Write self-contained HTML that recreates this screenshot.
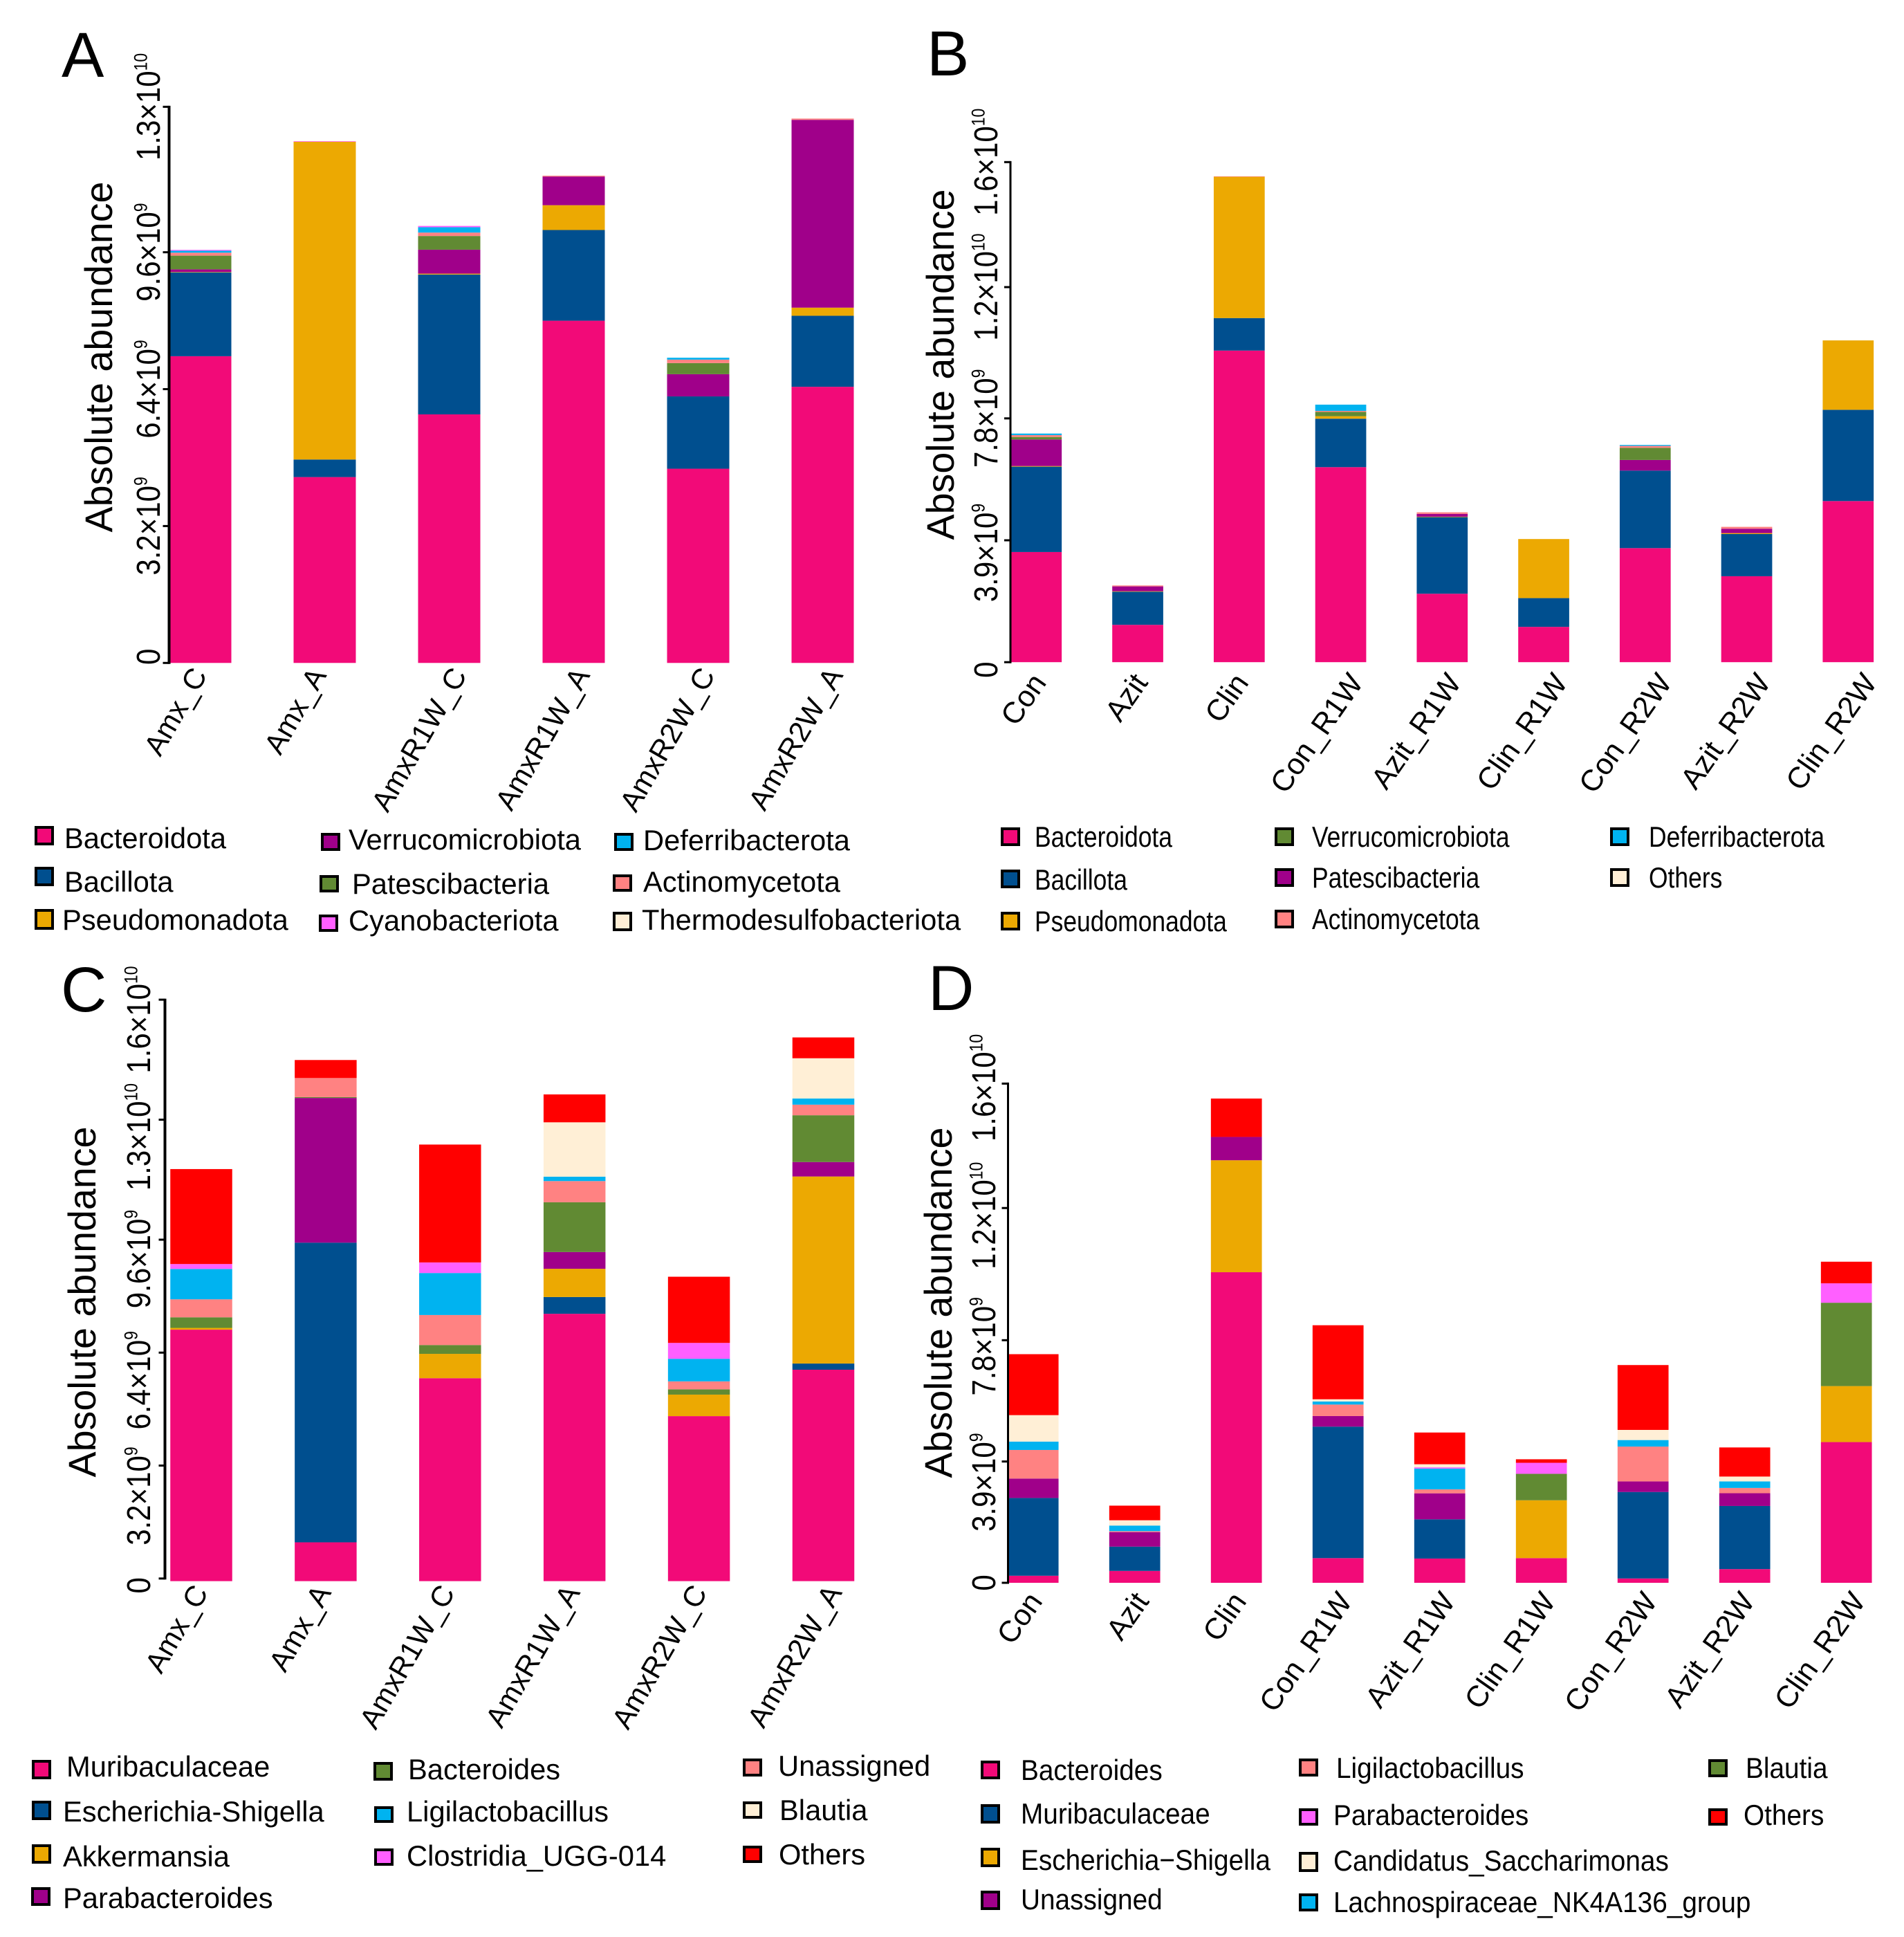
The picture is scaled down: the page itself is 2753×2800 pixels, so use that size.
<!DOCTYPE html>
<html lang="en">
<head>
<meta charset="utf-8">
<title>Absolute abundance stacked bars</title>
<style>
html,body{margin:0;padding:0;background:#fff;}
svg{display:block;}
text{font-family:"Liberation Sans",Arial,sans-serif;fill:#000;}
.lg text{font-size:41.7px;}
.lg rect{stroke:#000;stroke-width:4px;}
.pl{font-size:92px;}
.at{font-size:55.6px;}
</style>
</head>
<body>
<svg id="fig" xmlns="http://www.w3.org/2000/svg" width="2753" height="2800" viewBox="0 0 2753 2800">
<rect width="2753" height="2800" fill="#fff"/>
<text class="pl" x="89" y="111">A</text>
<text class="pl" x="1340" y="109">B</text>
<text class="pl" x="88" y="1462">C</text>
<text class="pl" x="1342" y="1460">D</text>

<text class="at" transform="translate(162,516) rotate(-90)" text-anchor="middle">Absolute abundance</text>
<text class="at" transform="translate(1379,527) rotate(-90)" text-anchor="middle">Absolute abundance</text>
<text class="at" transform="translate(138,1882) rotate(-90)" text-anchor="middle">Absolute abundance</text>
<text class="at" transform="translate(1376,1883) rotate(-90)" text-anchor="middle">Absolute abundance</text>

<g class="lg">
<g><rect x="52" y="1196" width="24" height="24" fill="#F20A78"/><text x="93" y="1226">Bacteroidota</text></g>
<g><rect x="52" y="1255" width="24" height="24" fill="#004F8F"/><text x="93" y="1289">Bacillota</text></g>
<g><rect x="52" y="1316" width="24" height="26" fill="#ECA902"/><text x="90" y="1344">Pseudomonadota</text></g>
<g><rect x="466" y="1206" width="24" height="22" fill="#A0008A"/><text x="504" y="1228">Verrucomicrobiota</text></g>
<g><rect x="464" y="1267" width="24" height="21" fill="#618A33"/><text x="509" y="1292">Patescibacteria</text></g>
<g><rect x="463" y="1324" width="24" height="21" fill="#FF5FFF"/><text x="504" y="1345">Cyanobacteriota</text></g>
<g><rect x="890" y="1206" width="24" height="22" fill="#00B3F0"/><text x="930" y="1229">Deferribacterota</text></g>
<g><rect x="888" y="1266" width="24" height="21" fill="#FF8282"/><text x="930" y="1289">Actinomycetota</text></g>
<g><rect x="888" y="1320" width="24" height="24" fill="#FFEFD6"/><text x="928" y="1344">Thermodesulfobacteriota</text></g>
</g>

<g class="lg">
<g><rect x="1449" y="1198" width="24" height="23" fill="#F20A78"/><text transform="translate(1496,1224) scale(.85,1)">Bacteroidota</text></g>
<g><rect x="1449" y="1259" width="24" height="23" fill="#004F8F"/><text transform="translate(1496,1286) scale(.85,1)">Bacillota</text></g>
<g><rect x="1449" y="1320" width="24" height="23" fill="#ECA902"/><text transform="translate(1496,1346) scale(.85,1)">Pseudomonadota</text></g>
<g><rect x="1845" y="1198" width="24" height="23" fill="#618A33"/><text transform="translate(1897,1224) scale(.85,1)">Verrucomicrobiota</text></g>
<g><rect x="1845" y="1257" width="24" height="23" fill="#A0008A"/><text transform="translate(1897,1283) scale(.85,1)">Patescibacteria</text></g>
<g><rect x="1845" y="1317" width="24" height="23" fill="#FF8282"/><text transform="translate(1897,1343) scale(.85,1)">Actinomycetota</text></g>
<g><rect x="2330" y="1198" width="24" height="23" fill="#00B3F0"/><text transform="translate(2384,1224) scale(.85,1)">Deferribacterota</text></g>
<g><rect x="2330" y="1257" width="24" height="23" fill="#FFEFD6"/><text transform="translate(2384,1283) scale(.85,1)">Others</text></g>
</g>

<g class="lg">
<g><rect x="48" y="2546" width="24" height="24" fill="#F20A78"/><text x="96" y="2568">Muribaculaceae</text></g>
<g><rect x="48" y="2605" width="24" height="24" fill="#004F8F"/><text x="91" y="2633">Escherichia-Shigella</text></g>
<g><rect x="48" y="2668" width="24" height="24" fill="#ECA902"/><text x="91" y="2698">Akkermansia</text></g>
<g><rect x="47" y="2730" width="24" height="23" fill="#A0008A"/><text x="91" y="2758">Parabacteroides</text></g>
<g><rect x="542" y="2549" width="24" height="23" fill="#618A33"/><text x="590" y="2572">Bacteroides</text></g>
<g><rect x="543" y="2613" width="24" height="20" fill="#00B3F0"/><text x="588" y="2633">Ligilactobacillus</text></g>
<g><rect x="543" y="2674" width="24" height="21" fill="#FF5FFF"/><text x="588" y="2697">Clostridia_UGG-014</text></g>
<g><rect x="1076" y="2544" width="24" height="22" fill="#FF8282"/><text x="1125" y="2567">Unassigned</text></g>
<g><rect x="1076" y="2606" width="24" height="21" fill="#FFEFD6"/><text x="1127" y="2631">Blautia</text></g>
<g><rect x="1076" y="2670" width="24" height="21" fill="#FF0000"/><text x="1126" y="2695">Others</text></g>
</g>

<g class="lg">
<g><rect x="1420" y="2547" width="24" height="23" fill="#F20A78"/><text transform="translate(1476,2573) scale(.93,1)">Bacteroides</text></g>
<g><rect x="1420" y="2610" width="24" height="24" fill="#004F8F"/><text transform="translate(1476,2636) scale(.93,1)">Muribaculaceae</text></g>
<g><rect x="1420" y="2673" width="24" height="24" fill="#ECA902"/><text transform="translate(1476,2703) scale(.93,1)">Escherichia−Shigella</text></g>
<g><rect x="1420" y="2735" width="24" height="24" fill="#A0008A"/><text transform="translate(1476,2760) scale(.93,1)">Unassigned</text></g>
<g><rect x="1880" y="2544" width="24" height="22" fill="#FF8282"/><text transform="translate(1932,2570) scale(.93,1)">Ligilactobacillus</text></g>
<g><rect x="1880" y="2616" width="24" height="21" fill="#FF5FFF"/><text transform="translate(1928,2638) scale(.93,1)">Parabacteroides</text></g>
<g><rect x="1880" y="2679" width="24" height="25" fill="#FFEFD6"/><text transform="translate(1928,2704) scale(.93,1)">Candidatus_Saccharimonas</text></g>
<g><rect x="1880" y="2739" width="24" height="22" fill="#00B3F0"/><text transform="translate(1928,2764) scale(.93,1)">Lachnospiraceae_NK4A136_group</text></g>
<g><rect x="2472" y="2545" width="24" height="22" fill="#618A33"/><text transform="translate(2524,2570) scale(.93,1)">Blautia</text></g>
<g><rect x="2472" y="2616" width="24" height="21" fill="#FF0000"/><text transform="translate(2521,2638) scale(.93,1)">Others</text></g>
</g>
</svg>

<script>
// Values in units of 1e9.
const amxCategories = ['Amx_C','Amx_A','AmxR1W_C','AmxR1W_A','AmxR2W_C','AmxR2W_A'];
const macCategories = ['Con','Azit','Clin','Con_R1W','Azit_R1W','Clin_R1W','Con_R2W','Azit_R2W','Clin_R2W'];

const aTickValues = [0,3.2,6.4,9.6,13];
const aTickLabels = ['0','3.2×10^9','6.4×10^9','9.6×10^9','1.3×10^10'];
const aBacteroidota = [7.17,4.345,5.81,8.0,4.54,6.455];
const aBacillota = [1.96,0.41,3.27,2.12,1.69,1.66];
const aPseudomonadota = [0.01,7.43,0.02,0.58,0,0.19];
const aVerrucomicrobiota = [0.06,0,0.56,0.67,0.52,4.39];
const aPatescibacteria = [0.32,0,0.32,0,0.26,0];
const aActinomycetota = [0.07,0,0.08,0.02,0.08,0.03];
const aDeferribacterota = [0.045,0,0.125,0,0.045,0];
const aCyanobacteriota = [0.02,0.012,0.03,0,0,0];
const aThermodesulfobacteriota = [0,0,0,0,0,0];

const bTickValues = [0,3.9,7.8,12,16];
const bTickLabels = ['0','3.9×10^9','7.8×10^9','1.2×10^10','1.6×10^10'];
const bBacteroidota = [3.525,1.195,9.97,6.24,2.19,1.13,3.65,2.75,5.155];
const bBacillota = [2.73,1.06,1.04,1.55,2.45,0.92,2.48,1.35,2.92];
const bPseudomonadota = [0.02,0.015,4.52,0.08,0.015,1.89,0,0.03,2.22];
const bPatescibacteria = [0.85,0.155,0,0,0.09,0,0.34,0.14,0];
const bVerrucomicrobiota = [0.08,0,0,0.14,0,0,0.39,0,0];
const bActinomycetota = [0.06,0.03,0.015,0.03,0.05,0,0.06,0.06,0];
const bDeferribacterota = [0.05,0,0,0.2,0,0,0.03,0,0];
const bOthers = [0,0,0,0,0,0,0,0,0];

const cTickValues = [0,3.2,6.4,9.6,13,16.4];
const cTickLabels = ['0','3.2×10^9','6.4×10^9','9.6×10^9','1.3×10^10','1.6×10^10'];
const cMuribaculaceae = [7.125,1.1,5.75,7.575,4.675,5.99];
const cEscherichia = [0,8.49,0,0.475,0,0.175];
const cAkkermansia = [0.05,0,0.69,0.8,0.61,5.3];
const cParabacteroides = [0,4.1,0,0.475,0,0.41];
const cBacteroides = [0.3,0.025,0.25,1.41,0.15,1.325];
const cUnassigned = [0.51,0.54,0.85,0.6,0.225,0.3];
const cLigilactobacillus = [0.86,0,1.19,0.125,0.64,0.175];
const cClostridia = [0.14,0,0.3,0,0.45,0];
const cBlautia = [0,0,0,1.54,0,1.14];
const cOthers = [2.69,0.51,3.34,0.79,1.875,0.59];

const dTickValues = [0,3.9,7.8,12.05,16.05];
const dTickLabels = ['0','3.9×10^9','7.8×10^9','1.2×10^10','1.6×10^10'];
const dBacteroides = [0.227,0.383,9.986,0.794,0.78,0.794,0.14,0.44,4.525];
const dMuribaculaceae = [2.5,0.78,0,4.227,1.26,0,2.78,2.03,0];
const dEscherichia = [0,0,3.6,0,0,1.86,0,0,1.8];
const dUnassigned = [0.624,0.468,0.75,0.34,0.837,0,0.34,0.41,0];
const dBlautia = [0,0,0,0,0,0.85,0,0,2.68];
const dLigilactobacillus = [0.92,0.03,0,0.37,0.128,0,1.12,0.17,0];
const dLachnospiraceae = [0.27,0.18,0,0.1,0.667,0,0.21,0.21,0];
const dParabacteroides = [0,0,0,0,0.04,0.355,0,0,0.624];
const dCandidatus = [0.85,0.17,0,0.07,0.1,0,0.326,0.156,0];
const dOthers = [1.96,0.47,1.234,2.38,1.02,0.113,2.085,0.936,0.695];

const PINK='#F20A78',BLUE='#004F8F',ORANGE='#ECA902',PURPLE='#A0008A',GREEN='#618A33',SALMON='#FF8282',CYAN='#00B3F0',MAGENTA='#FF5FFF',CREAM='#FFEFD6',RED='#FF0000';
const NS='http://www.w3.org/2000/svg';
const fig=document.getElementById('fig');

function drawPanel(p){
  const g=document.createElementNS(NS,'g');
  
  
  fig.appendChild(g);
  const xScale=i=>p.firstCenter+i*p.step;
  const yScale=v=>p.y0-v*p.ppu;
  const yTick=v=>yScale(v)-p.tickLift;

  p.categories.forEach((cat,i)=>{
    const bar=document.createElementNS(NS,'g');
    
    
    g.appendChild(bar);
    let sum=0;
    p.series.forEach(s=>{
      const v=s.values[i];
      if(!v) return;
      const r=document.createElementNS(NS,'rect');
      
      
      r.setAttribute('x',xScale(i)-p.barWidth/2);
      r.setAttribute('y',yScale(sum+v));
      r.setAttribute('width',p.barWidth);
      r.setAttribute('height',yScale(sum)-yScale(sum+v));
      r.setAttribute('fill',s.color);
      bar.appendChild(r);
      sum+=v;
    });
    const t=document.createElementNS(NS,'text');
    
    
    t.setAttribute('transform','translate('+(xScale(i)+p.labelNudge[i])+','+p.labelY+') rotate('+p.labelAngle+')');
    t.setAttribute('text-anchor','end');
    t.setAttribute('font-size',p.labelFont);
    t.textContent=cat;
    g.appendChild(t);
  });

  const axis=document.createElementNS(NS,'line');
  
  
  axis.setAttribute('x1',p.axisX);
  axis.setAttribute('x2',p.axisX);
  axis.setAttribute('y1',yTick(p.ticks[0])+1.5);
  axis.setAttribute('y2',yTick(p.ticks[p.ticks.length-1])-1.5);
  axis.setAttribute('stroke','#000');
  axis.setAttribute('stroke-width',p.axisW);
  g.appendChild(axis);

  p.ticks.forEach((v,i)=>{
    const tk=document.createElementNS(NS,'line');
    
    
    tk.setAttribute('x1',p.axisX-9);
    tk.setAttribute('x2',p.axisX);
    tk.setAttribute('y1',yTick(v));
    tk.setAttribute('y2',yTick(v));
    tk.setAttribute('stroke','#000');
    tk.setAttribute('stroke-width','3');
    g.appendChild(tk);
    const parts=p.tickLabels[i].split('^');
    const t=document.createElementNS(NS,'text');
    
    
    t.setAttribute('transform','translate('+p.tickLabelX+','+(yTick(v)+p.labelShifts[i])+') rotate(-90) scale(1,1.15)');
    t.setAttribute('text-anchor','middle');
    t.setAttribute('font-size','42');
    t.appendChild(document.createTextNode(parts[0]));
    if(parts[1]){
      const sup=document.createElementNS(NS,'tspan');
      sup.setAttribute('font-size','23');
      sup.setAttribute('dy','-16');
      sup.textContent=parts[1];
      t.appendChild(sup);
    }
    g.appendChild(t);
  });
}

drawPanel({id:'a',categories:amxCategories,firstCenter:289.5,step:180,barWidth:90,y0:958.3,ppu:61.84,tickLift:0,axisX:244.5,axisW:4,ticks:aTickValues,tickLabels:aTickLabels,tickLabelX:231,labelShifts:[-9,0,0,0,0],labelNudge:[11,3.5,26.5,24.5,25.5,30.5],labelY:976,labelFont:42,labelAngle:-60,
series:[{name:'bacteroidota',color:PINK,values:aBacteroidota},{name:'bacillota',color:BLUE,values:aBacillota},{name:'pseudomonadota',color:ORANGE,values:aPseudomonadota},{name:'verrucomicrobiota',color:PURPLE,values:aVerrucomicrobiota},{name:'patescibacteria',color:GREEN,values:aPatescibacteria},{name:'actinomycetota',color:SALMON,values:aActinomycetota},{name:'deferribacterota',color:CYAN,values:aDeferribacterota},{name:'cyanobacteriota',color:MAGENTA,values:aCyanobacteriota},{name:'thermodesulfobacteriota',color:CREAM,values:aThermodesulfobacteriota}]});

drawPanel({id:'b',categories:macCategories,firstCenter:1498.3,step:146.75,barWidth:73.7,y0:957.2,ppu:45.18,tickLift:0,axisX:1461,axisW:3,ticks:bTickValues,tickLabels:bTickLabels,tickLabelX:1442,labelShifts:[11,18,0,0,0],labelNudge:[16,16,15,34,29,36,40,36,43],labelY:987,labelFont:43,labelAngle:-55,
series:[{name:'bacteroidota',color:PINK,values:bBacteroidota},{name:'bacillota',color:BLUE,values:bBacillota},{name:'pseudomonadota',color:ORANGE,values:bPseudomonadota},{name:'patescibacteria',color:PURPLE,values:bPatescibacteria},{name:'verrucomicrobiota',color:GREEN,values:bVerrucomicrobiota},{name:'actinomycetota',color:SALMON,values:bActinomycetota},{name:'deferribacterota',color:CYAN,values:bDeferribacterota},{name:'others',color:CREAM,values:bOthers}]});

drawPanel({id:'c',categories:amxCategories,firstCenter:291,step:179.9,barWidth:89.5,y0:2285.6,ppu:51.02,tickLift:3.8,axisX:238.5,axisW:4,ticks:cTickValues,tickLabels:cTickLabels,tickLabelX:217,labelShifts:[10,44,40,28,25,29],labelNudge:[11,9,8,9,13,28],labelY:2302,labelFont:42,labelAngle:-60,
series:[{name:'muribaculaceae',color:PINK,values:cMuribaculaceae},{name:'escherichia-shigella',color:BLUE,values:cEscherichia},{name:'akkermansia',color:ORANGE,values:cAkkermansia},{name:'parabacteroides',color:PURPLE,values:cParabacteroides},{name:'bacteroides',color:GREEN,values:cBacteroides},{name:'unassigned',color:SALMON,values:cUnassigned},{name:'ligilactobacillus',color:CYAN,values:cLigilactobacillus},{name:'clostridia-ugg-014',color:MAGENTA,values:cClostridia},{name:'blautia',color:CREAM,values:cBlautia},{name:'others',color:RED,values:cOthers}]});

drawPanel({id:'d',categories:macCategories,firstCenter:1493.7,step:147,barWidth:73.7,y0:2288,ppu:44.96,tickLift:0,axisX:1457.5,axisW:3,ticks:dTickValues,tickLabels:dTickLabels,tickLabelX:1439,labelShifts:[0,30,9,11,6],labelNudge:[15,22,16,22,24,22,22,16,29],labelY:2315,labelFont:43,labelAngle:-55,
series:[{name:'bacteroides',color:PINK,values:dBacteroides},{name:'muribaculaceae',color:BLUE,values:dMuribaculaceae},{name:'escherichia-shigella',color:ORANGE,values:dEscherichia},{name:'unassigned',color:PURPLE,values:dUnassigned},{name:'blautia',color:GREEN,values:dBlautia},{name:'ligilactobacillus',color:SALMON,values:dLigilactobacillus},{name:'lachnospiraceae-nk4a136-group',color:CYAN,values:dLachnospiraceae},{name:'parabacteroides',color:MAGENTA,values:dParabacteroides},{name:'candidatus-saccharimonas',color:CREAM,values:dCandidatus},{name:'others',color:RED,values:dOthers}]});
</script>
</body>
</html>
